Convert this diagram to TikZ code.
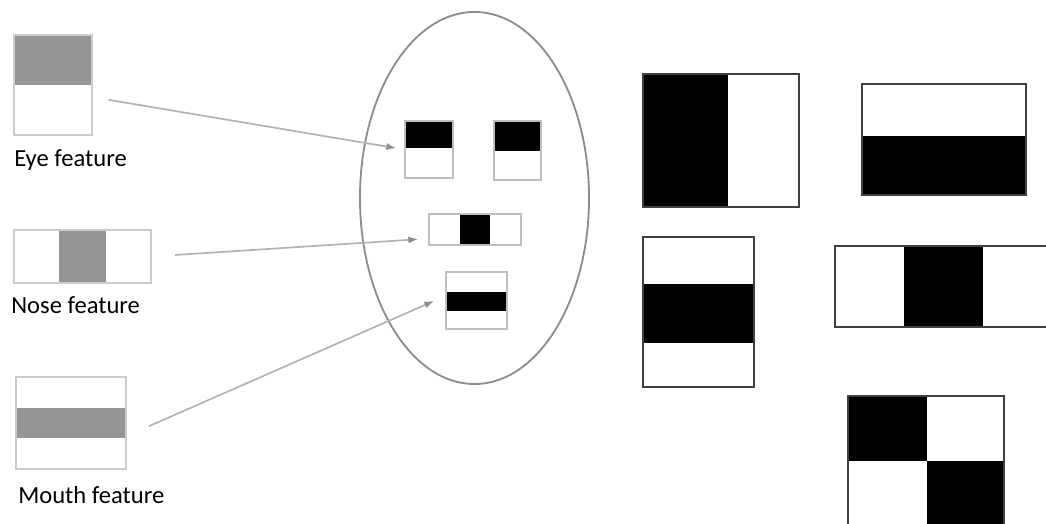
\documentclass[tikz,border=0pt]{standalone}
\usepackage{fontspec}
\setmainfont{Carlito}
\usetikzlibrary{arrows.meta,fit}

\definecolor{featgray}{HTML}{959595}

\tikzset{
  featbox/.style={draw=black!20, line width=1.2pt, inner sep=0pt},
  facebox/.style={draw=black!25, line width=1.2pt, inner sep=0pt},
  haarbox/.style={draw=black!75, line width=1.4pt, inner sep=0pt},
  pointer/.style={draw=black!30, line width=1.2pt, -{Latex[length=7pt,width=5pt,black!45]}},
  caption/.style={anchor=base west, inner sep=0pt, font=\fontsize{17.5}{20}\selectfont}
}

\begin{document}
\begin{tikzpicture}[x=0.025cm, y=-0.025cm]
	\useasboundingbox (0,0) rectangle (1046,524);
	\clip (0,0) rectangle (1046,524);
	
	%%%%% FEATURES %%%%%
	
	\fill[featgray] (14,35) rectangle (92,85);
	\node[featbox, fit={(14,35) (92,135)}] (eye) {};
	\node[caption] (eyetext) at (14,166.5) {Eye feature};
	
	\fill[featgray] (59,230) rectangle (106,283);
	\node[featbox, fit={(14,230) (151,283)}] (nose) {};
	\node[caption] (nosetext) at (11,314) {Nose feature};
	
	\fill[featgray] (16,408) rectangle (126,438);
	\node[featbox, fit={(16,377) (126,469)}] (mouth) {};
	\node[caption] (mouthtext) at (18,503) {Mouth feature};
	
	%%%%% FACE %%%%%
	
	\draw[black!45, line width=1.3pt] (474.5,198) ellipse (2.8625cm and 4.65cm);
	
	\fill (405,121) rectangle (453,148);
	\node[facebox, fit={(405,121) (453,178)}] (lefteye) {};
	\fill (494,121) rectangle (541,151);
	\node[facebox, fit={(494,121) (541,180)}] (righteye) {};
	
	\fill (460,214) rectangle (490,245);
	\node[facebox, fit={(429,214) (521,245)}] (facenose) {};
	
	\fill (446,292) rectangle (507,311);
	\node[facebox, fit={(446,272) (507,329)}] (facemouth) {};
	
	\draw[pointer, shorten <=0.4cm, shorten >=0.2cm] (eye.-17) -- (lefteye.west);
	\draw[pointer, shorten <=0.575cm, shorten >=0.25cm] (nose.east) -- (facenose.191);
	\draw[pointer, shorten <=0.6cm, shorten >=0.3cm] (mouth.-13) -- (facemouth.172);
	
	%%%%% HAAR FEATURES %%%%%
	
	\fill (643,74) rectangle (728,207);
	\node[haarbox, fit={(643,74) (799,207)}] (edgev) {};
	
	\fill (862,136) rectangle (1026,195);
	\node[haarbox, fit={(862,84) (1026,195)}] (edgeh) {};
	
	\fill (643,284) rectangle (754,343);
	\node[haarbox, fit={(643,237) (754,387)}] (lineh) {};
	
	\fill (904,246) rectangle (983,327);
	\node[haarbox, fit={(835,246) (1052,327)}] (linev) {};
	
	\fill (848,396) rectangle (927,461);
	\fill (927,461) rectangle (1004,530);
	\node[haarbox, fit={(848,396) (1004,530)}] (diag) {};
	
	%%%%% END %%%%%
\end{tikzpicture}
\end{document}
